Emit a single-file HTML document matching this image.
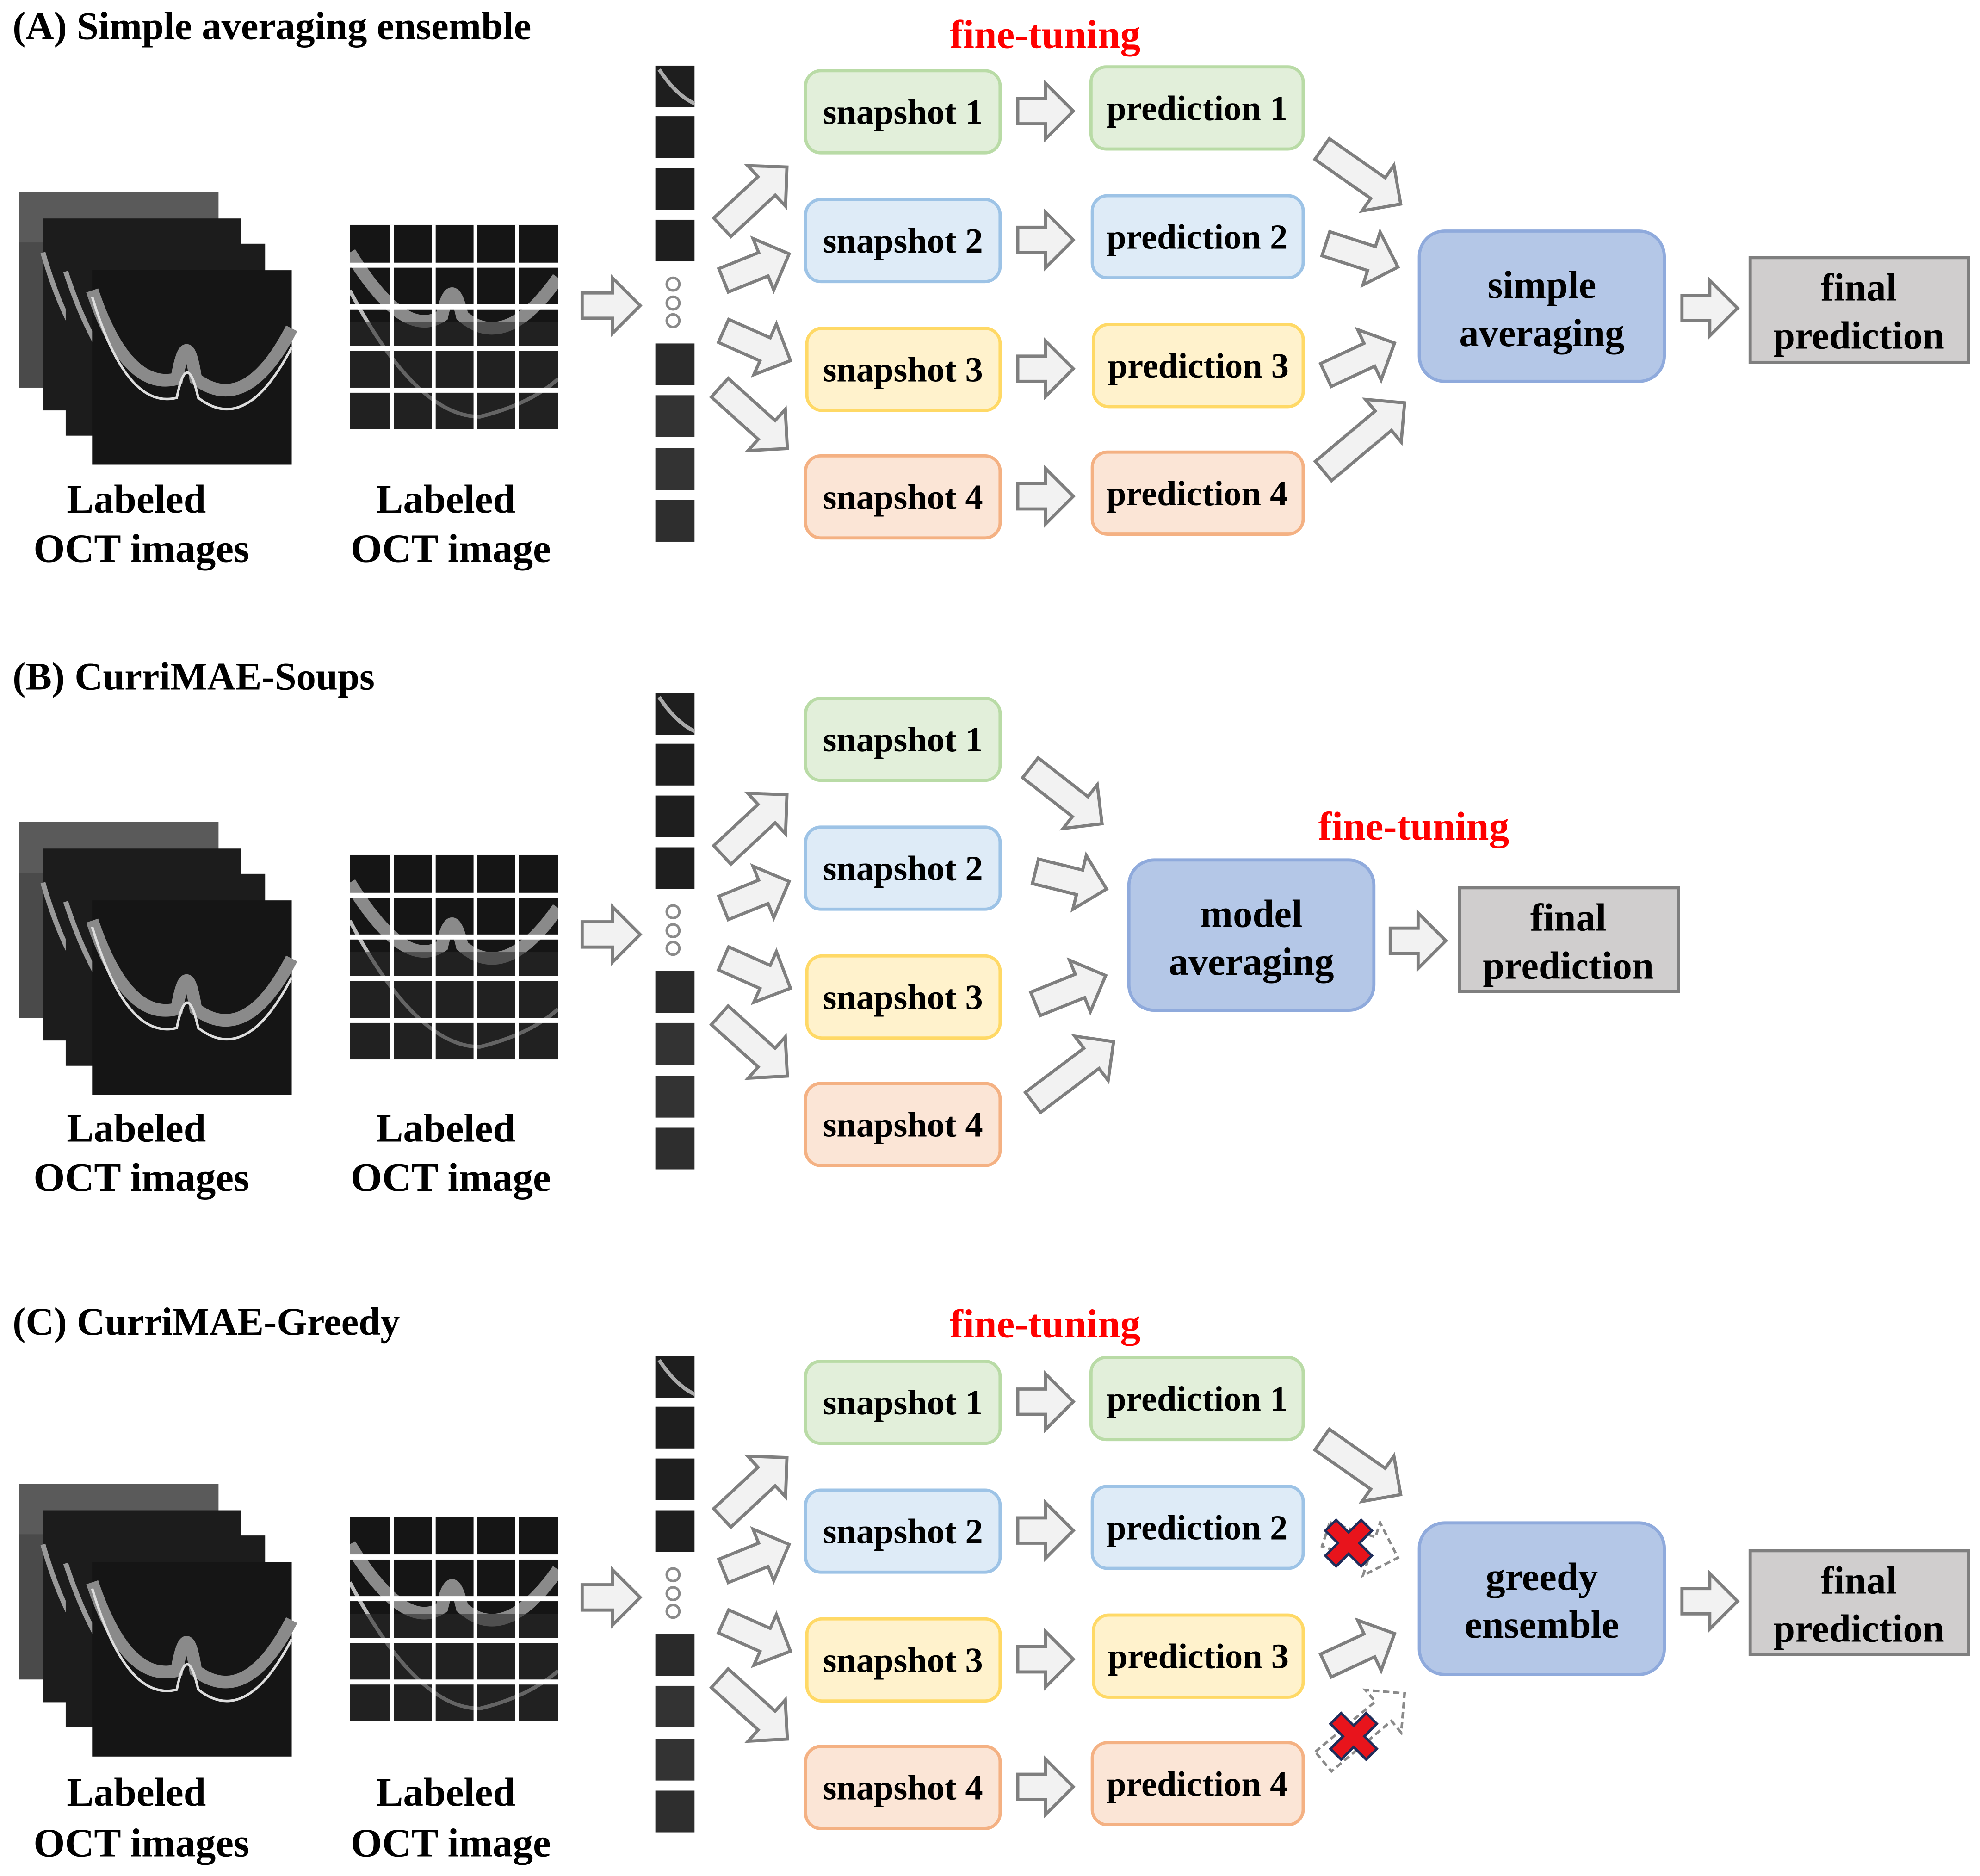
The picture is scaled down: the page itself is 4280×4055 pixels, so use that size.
<!DOCTYPE html>
<html><head><meta charset="utf-8"><style>
html,body{margin:0;padding:0;background:#fff;}
svg{display:block;}
text{font-family:"Liberation Serif",serif;font-weight:bold;fill:#000;}
.t{font-size:31px;}
.b{font-size:28px;}
.l{font-size:32px;}
.m{font-size:31px;}
.r{font-size:32px;fill:#f00;}
.ar{fill:#f2f2f2;stroke:#7f7f7f;stroke-width:2.5;}
.ad{fill:#fff;stroke:#8a8a8a;stroke-width:2;stroke-dasharray:5,3;}
.g{fill:#e2efda;stroke:#b9dba6;stroke-width:2.5;}
.bl{fill:#deebf7;stroke:#9dc3e6;stroke-width:2.5;}
.y{fill:#fff2cc;stroke:#ffd966;stroke-width:2.5;}
.o{fill:#fbe5d6;stroke:#f4b183;stroke-width:2.5;}
.big{fill:#b4c7e7;stroke:#8faadc;stroke-width:2.5;}
.fin{fill:#d0cece;stroke:#7f7f7f;stroke-width:2.5;}
.oct{fill:#1c1c1c;}
.p{fill:#1e1e1e;}
.dot{fill:#fff;stroke:#8a8a8a;stroke-width:2;}
</style></head><body>
<svg width="4280" height="4055" viewBox="0 0 1568 1485.6" preserveAspectRatio="none" xmlns="http://www.w3.org/2000/svg">
<defs>
<clipPath id="gc"><rect x="277" y="178" width="165" height="162"/></clipPath>
</defs>

<!-- PANEL A -->
<g>
<text class="t" x="10" y="31">(A) Simple averaging ensemble</text>
<text class="r" x="752" y="38">fine-tuning</text>
<rect x="15" y="152" width="158" height="155" fill="#4a4a4a"/>
<rect x="15" y="152" width="158" height="40" fill="#5a5a5a"/>
<rect x="34" y="173" width="157" height="152" class="oct"/>
<path d="M34,200 Q60,290 100,300" stroke="#999" stroke-width="4" fill="none"/>
<rect x="52" y="193" width="158" height="152" class="oct"/>
<path d="M52,215 Q80,300 120,320" stroke="#999" stroke-width="4" fill="none"/>
<rect x="73" y="214" width="158" height="154" fill="#151515"/>
<path d="M73,230 Q100,310 140,300 Q148,255 155,300 Q195,330 231,260" stroke="#8a8a8a" stroke-width="10" fill="none"/>
<path d="M73,235 Q100,325 140,315 Q148,275 157,315 Q195,345 231,275" stroke="#ddd" stroke-width="2" fill="none"/>
<g clip-path="url(#gc)">
<rect x="277" y="178" width="165" height="162" fill="#151515"/>
<path d="M277,200 Q320,270 350,250 Q358,215 366,250 Q400,280 442,220" stroke="#8a8a8a" stroke-width="10" fill="none"/>
<path d="M277,230 Q330,330 380,330 Q420,320 442,300" stroke="#bbb" stroke-width="3" fill="none"/>
<rect x="277" y="255" width="165" height="85" fill="#2a2a2a" opacity="0.6"/>
</g>
<g fill="#fff">
<rect x="309" y="178" width="3" height="162"/><rect x="342" y="178" width="3" height="162"/><rect x="375" y="178" width="3" height="162"/><rect x="408" y="178" width="3" height="162"/>
<rect x="277" y="208" width="165" height="4"/><rect x="277" y="241" width="165" height="4"/><rect x="277" y="274" width="165" height="4"/><rect x="277" y="307" width="165" height="4"/>
</g>
<text class="l" x="108" y="406" text-anchor="middle">Labeled</text>
<text class="l" x="112" y="445" text-anchor="middle">OCT images</text>
<text class="l" x="353" y="406" text-anchor="middle">Labeled</text>
<text class="l" x="357" y="445" text-anchor="middle">OCT image</text>
<g transform="translate(461,242)"><path class="ar" d="M0,-10H24V-22L46,0L24,22V10H0Z"/></g>
<rect class="p" x="519" y="52" width="31" height="33"/><path d="M522,55 Q535,75 550,82" stroke="#aaa" stroke-width="3" fill="none"/>
<rect class="p" x="519" y="92" width="31" height="33"/>
<rect class="p" x="519" y="133" width="31" height="33"/>
<rect class="p" x="519" y="174" width="31" height="33"/>
<circle class="dot" cx="533" cy="225" r="5"/><circle class="dot" cx="533" cy="240" r="5"/><circle class="dot" cx="533" cy="254" r="5"/>
<rect x="519" y="272" width="31" height="33" fill="#2a2a2a"/>
<rect x="519" y="313" width="31" height="33" fill="#333"/>
<rect x="519" y="355" width="31" height="33" fill="#333"/>
<rect x="519" y="396" width="31" height="33" fill="#2e2e2e"/>
<g transform="translate(572,180) rotate(-43)"><path class="ar" d="M0,-10H48V-22L70,0L48,22V10H0Z"/></g>
<g transform="translate(573,222) rotate(-22)"><path class="ar" d="M0,-10H34V-22L56,0L34,22V10H0Z"/></g>
<g transform="translate(573,262) rotate(24)"><path class="ar" d="M0,-10H36V-22L58,0L36,22V10H0Z"/></g>
<g transform="translate(570,307) rotate(42)"><path class="ar" d="M0,-10H50V-22L72,0L50,22V10H0Z"/></g>
<rect class="g" x="638" y="56" width="154" height="65" rx="12"/><text class="b" x="715" y="98" text-anchor="middle">snapshot 1</text>
<rect class="bl" x="638" y="158" width="154" height="65" rx="12"/><text class="b" x="715" y="200" text-anchor="middle">snapshot 2</text>
<rect class="y" x="639" y="260" width="153" height="65" rx="12"/><text class="b" x="715" y="302" text-anchor="middle">snapshot 3</text>
<rect class="o" x="638" y="361" width="154" height="65" rx="12"/><text class="b" x="715" y="403" text-anchor="middle">snapshot 4</text>
<g transform="translate(806,88)"><path class="ar" d="M0,-10H22V-22L44,0L22,22V10H0Z"/></g>
<g transform="translate(806,190)"><path class="ar" d="M0,-10H22V-22L44,0L22,22V10H0Z"/></g>
<g transform="translate(806,292)"><path class="ar" d="M0,-10H22V-22L44,0L22,22V10H0Z"/></g>
<g transform="translate(806,393)"><path class="ar" d="M0,-10H22V-22L44,0L22,22V10H0Z"/></g>
<rect class="g" x="864" y="53" width="168" height="65" rx="12"/><text class="b" x="948" y="95" text-anchor="middle">prediction 1</text>
<rect class="bl" x="865" y="155" width="167" height="65" rx="12"/><text class="b" x="948" y="197" text-anchor="middle">prediction 2</text>
<rect class="y" x="866" y="257" width="166" height="65" rx="12"/><text class="b" x="949" y="299" text-anchor="middle">prediction 3</text>
<rect class="o" x="865" y="358" width="167" height="65" rx="12"/><text class="b" x="948" y="400" text-anchor="middle">prediction 4</text>
<g transform="translate(1047,118) rotate(35)"><path class="ar" d="M0,-10H54V-22L76,0L54,22V10H0Z"/></g>
<g transform="translate(1050,193) rotate(18)"><path class="ar" d="M0,-10H38V-22L60,0L38,22V10H0Z"/></g>
<g transform="translate(1050,297) rotate(-25)"><path class="ar" d="M0,-10H38V-22L60,0L38,22V10H0Z"/></g>
<g transform="translate(1048,373) rotate(-40)"><path class="ar" d="M0,-10H62V-22L84,0L62,22V10H0Z"/></g>
<rect class="big" x="1124" y="183" width="194" height="119" rx="20"/>
<text class="m" x="1221" y="236" text-anchor="middle">simple</text>
<text class="m" x="1221" y="274" text-anchor="middle">averaging</text>
<g transform="translate(1332,244)"><path class="ar" d="M0,-10H22V-22L44,0L22,22V10H0Z"/></g>
<rect class="fin" x="1386" y="204" width="173" height="83"/>
<text class="m" x="1472" y="238" text-anchor="middle">final</text>
<text class="m" x="1472" y="276" text-anchor="middle">prediction</text>
</g>

<!-- PANEL B -->
<g transform="translate(0,497)">
<text class="t" x="10" y="49">(B) CurriMAE-Soups</text>
<rect x="15" y="154" width="158" height="155" fill="#4a4a4a"/>
<rect x="15" y="154" width="158" height="40" fill="#5a5a5a"/>
<rect x="34" y="175" width="157" height="152" class="oct"/>
<path d="M34,202 Q60,292 100,302" stroke="#999" stroke-width="4" fill="none"/>
<rect x="52" y="195" width="158" height="152" class="oct"/>
<path d="M52,217 Q80,302 120,322" stroke="#999" stroke-width="4" fill="none"/>
<rect x="73" y="216" width="158" height="154" fill="#151515"/>
<path d="M73,232 Q100,312 140,302 Q148,257 155,302 Q195,332 231,262" stroke="#8a8a8a" stroke-width="10" fill="none"/>
<path d="M73,237 Q100,327 140,317 Q148,277 157,317 Q195,347 231,277" stroke="#ddd" stroke-width="2" fill="none"/>
<g transform="translate(0,2)">
<g clip-path="url(#gc)">
<rect x="277" y="178" width="165" height="162" fill="#151515"/>
<path d="M277,200 Q320,270 350,250 Q358,215 366,250 Q400,280 442,220" stroke="#8a8a8a" stroke-width="10" fill="none"/>
<path d="M277,230 Q330,330 380,330 Q420,320 442,300" stroke="#bbb" stroke-width="3" fill="none"/>
<rect x="277" y="255" width="165" height="85" fill="#2a2a2a" opacity="0.6"/>
</g>
<g fill="#fff">
<rect x="309" y="178" width="3" height="162"/><rect x="342" y="178" width="3" height="162"/><rect x="375" y="178" width="3" height="162"/><rect x="408" y="178" width="3" height="162"/>
<rect x="277" y="208" width="165" height="4"/><rect x="277" y="241" width="165" height="4"/><rect x="277" y="274" width="165" height="4"/><rect x="277" y="307" width="165" height="4"/>
</g>
</g>
<text class="l" x="108" y="407" text-anchor="middle">Labeled</text>
<text class="l" x="112" y="446" text-anchor="middle">OCT images</text>
<text class="l" x="353" y="407" text-anchor="middle">Labeled</text>
<text class="l" x="357" y="446" text-anchor="middle">OCT image</text>
<g transform="translate(461,243)"><path class="ar" d="M0,-10H24V-22L46,0L24,22V10H0Z"/></g>
<rect class="p" x="519" y="52" width="31" height="33"/><path d="M522,55 Q535,75 550,82" stroke="#aaa" stroke-width="3" fill="none"/>
<rect class="p" x="519" y="92" width="31" height="33"/>
<rect class="p" x="519" y="133" width="31" height="33"/>
<rect class="p" x="519" y="174" width="31" height="33"/>
<circle class="dot" cx="533" cy="225" r="5"/><circle class="dot" cx="533" cy="240" r="5"/><circle class="dot" cx="533" cy="254" r="5"/>
<rect x="519" y="272" width="31" height="33" fill="#2a2a2a"/>
<rect x="519" y="313" width="31" height="33" fill="#333"/>
<rect x="519" y="355" width="31" height="33" fill="#333"/>
<rect x="519" y="396" width="31" height="33" fill="#2e2e2e"/>
<g transform="translate(572,180) rotate(-43)"><path class="ar" d="M0,-10H48V-22L70,0L48,22V10H0Z"/></g>
<g transform="translate(573,222) rotate(-22)"><path class="ar" d="M0,-10H34V-22L56,0L34,22V10H0Z"/></g>
<g transform="translate(573,262) rotate(24)"><path class="ar" d="M0,-10H36V-22L58,0L36,22V10H0Z"/></g>
<g transform="translate(570,307) rotate(42)"><path class="ar" d="M0,-10H50V-22L72,0L50,22V10H0Z"/></g>
<rect class="g" x="638" y="56" width="154" height="65" rx="12"/><text class="b" x="715" y="98" text-anchor="middle">snapshot 1</text>
<rect class="bl" x="638" y="158" width="154" height="65" rx="12"/><text class="b" x="715" y="200" text-anchor="middle">snapshot 2</text>
<rect class="y" x="639" y="260" width="153" height="65" rx="12"/><text class="b" x="715" y="302" text-anchor="middle">snapshot 3</text>
<rect class="o" x="638" y="361" width="154" height="65" rx="12"/><text class="b" x="715" y="403" text-anchor="middle">snapshot 4</text>
<g transform="translate(816,111) rotate(38)"><path class="ar" d="M0,-10H50V-22L72,0L50,22V10H0Z"/></g>
<g transform="translate(820,193) rotate(14)"><path class="ar" d="M0,-10H36V-22L58,0L36,22V10H0Z"/></g>
<g transform="translate(820,298) rotate(-22)"><path class="ar" d="M0,-10H38V-22L60,0L38,22V10H0Z"/></g>
<g transform="translate(818,376) rotate(-37)"><path class="ar" d="M0,-10H58V-22L80,0L58,22V10H0Z"/></g>
<text class="r" x="1044" y="168">fine-tuning</text>
<rect class="big" x="894" y="184" width="194" height="119" rx="20"/>
<text class="m" x="991" y="237" text-anchor="middle">model</text>
<text class="m" x="991" y="275" text-anchor="middle">averaging</text>
<g transform="translate(1101,248)"><path class="ar" d="M0,-10H22V-22L44,0L22,22V10H0Z"/></g>
<rect class="fin" x="1156" y="206" width="173" height="82"/>
<text class="m" x="1242" y="240" text-anchor="middle">final</text>
<text class="m" x="1242" y="278" text-anchor="middle">prediction</text>
</g>

<!-- PANEL C -->
<g transform="translate(0,1022)">
<text class="t" x="10" y="35">(C) CurriMAE-Greedy</text>
<text class="r" x="752" y="37">fine-tuning</text>
<rect x="15" y="153" width="158" height="155" fill="#4a4a4a"/>
<rect x="15" y="153" width="158" height="40" fill="#5a5a5a"/>
<rect x="34" y="174" width="157" height="152" class="oct"/>
<path d="M34,201 Q60,291 100,301" stroke="#999" stroke-width="4" fill="none"/>
<rect x="52" y="194" width="158" height="152" class="oct"/>
<path d="M52,216 Q80,301 120,321" stroke="#999" stroke-width="4" fill="none"/>
<rect x="73" y="215" width="158" height="154" fill="#151515"/>
<path d="M73,231 Q100,311 140,301 Q148,256 155,301 Q195,331 231,261" stroke="#8a8a8a" stroke-width="10" fill="none"/>
<path d="M73,236 Q100,326 140,316 Q148,276 157,316 Q195,346 231,276" stroke="#ddd" stroke-width="2" fill="none"/>
<g transform="translate(0,1)">
<g clip-path="url(#gc)">
<rect x="277" y="178" width="165" height="162" fill="#151515"/>
<path d="M277,200 Q320,270 350,250 Q358,215 366,250 Q400,280 442,220" stroke="#8a8a8a" stroke-width="10" fill="none"/>
<path d="M277,230 Q330,330 380,330 Q420,320 442,300" stroke="#bbb" stroke-width="3" fill="none"/>
<rect x="277" y="255" width="165" height="85" fill="#2a2a2a" opacity="0.6"/>
</g>
<g fill="#fff">
<rect x="309" y="178" width="3" height="162"/><rect x="342" y="178" width="3" height="162"/><rect x="375" y="178" width="3" height="162"/><rect x="408" y="178" width="3" height="162"/>
<rect x="277" y="208" width="165" height="4"/><rect x="277" y="241" width="165" height="4"/><rect x="277" y="274" width="165" height="4"/><rect x="277" y="307" width="165" height="4"/>
</g>
</g>
<text class="l" x="108" y="408" text-anchor="middle">Labeled</text>
<text class="l" x="112" y="448" text-anchor="middle">OCT images</text>
<text class="l" x="353" y="408" text-anchor="middle">Labeled</text>
<text class="l" x="357" y="448" text-anchor="middle">OCT image</text>
<g transform="translate(461,243)"><path class="ar" d="M0,-10H24V-22L46,0L24,22V10H0Z"/></g>
<rect class="p" x="519" y="52" width="31" height="33"/><path d="M522,55 Q535,75 550,82" stroke="#aaa" stroke-width="3" fill="none"/>
<rect class="p" x="519" y="92" width="31" height="33"/>
<rect class="p" x="519" y="133" width="31" height="33"/>
<rect class="p" x="519" y="174" width="31" height="33"/>
<circle class="dot" cx="533" cy="225" r="5"/><circle class="dot" cx="533" cy="240" r="5"/><circle class="dot" cx="533" cy="254" r="5"/>
<rect x="519" y="272" width="31" height="33" fill="#2a2a2a"/>
<rect x="519" y="313" width="31" height="33" fill="#333"/>
<rect x="519" y="355" width="31" height="33" fill="#333"/>
<rect x="519" y="396" width="31" height="33" fill="#2e2e2e"/>
<g transform="translate(572,180) rotate(-43)"><path class="ar" d="M0,-10H48V-22L70,0L48,22V10H0Z"/></g>
<g transform="translate(573,222) rotate(-22)"><path class="ar" d="M0,-10H34V-22L56,0L34,22V10H0Z"/></g>
<g transform="translate(573,262) rotate(24)"><path class="ar" d="M0,-10H36V-22L58,0L36,22V10H0Z"/></g>
<g transform="translate(570,307) rotate(42)"><path class="ar" d="M0,-10H50V-22L72,0L50,22V10H0Z"/></g>
<rect class="g" x="638" y="56" width="154" height="65" rx="12"/><text class="b" x="715" y="98" text-anchor="middle">snapshot 1</text>
<rect class="bl" x="638" y="158" width="154" height="65" rx="12"/><text class="b" x="715" y="200" text-anchor="middle">snapshot 2</text>
<rect class="y" x="639" y="260" width="153" height="65" rx="12"/><text class="b" x="715" y="302" text-anchor="middle">snapshot 3</text>
<rect class="o" x="638" y="361" width="154" height="65" rx="12"/><text class="b" x="715" y="403" text-anchor="middle">snapshot 4</text>
<g transform="translate(806,88)"><path class="ar" d="M0,-10H22V-22L44,0L22,22V10H0Z"/></g>
<g transform="translate(806,190)"><path class="ar" d="M0,-10H22V-22L44,0L22,22V10H0Z"/></g>
<g transform="translate(806,292)"><path class="ar" d="M0,-10H22V-22L44,0L22,22V10H0Z"/></g>
<g transform="translate(806,393)"><path class="ar" d="M0,-10H22V-22L44,0L22,22V10H0Z"/></g>
<rect class="g" x="864" y="53" width="168" height="65" rx="12"/><text class="b" x="948" y="95" text-anchor="middle">prediction 1</text>
<rect class="bl" x="865" y="155" width="167" height="65" rx="12"/><text class="b" x="948" y="197" text-anchor="middle">prediction 2</text>
<rect class="y" x="866" y="257" width="166" height="65" rx="12"/><text class="b" x="949" y="299" text-anchor="middle">prediction 3</text>
<rect class="o" x="865" y="358" width="167" height="65" rx="12"/><text class="b" x="948" y="400" text-anchor="middle">prediction 4</text>
<g transform="translate(1047,118) rotate(35)"><path class="ar" d="M0,-10H54V-22L76,0L54,22V10H0Z"/></g>
<g transform="translate(1050,193) rotate(18)"><path class="ad" d="M0,-10H38V-22L60,0L38,22V10H0Z"/></g>
<g transform="translate(1050,297) rotate(-25)"><path class="ar" d="M0,-10H38V-22L60,0L38,22V10H0Z"/></g>
<g transform="translate(1048,373) rotate(-40)"><path class="ad" d="M0,-10H62V-22L84,0L62,22V10H0Z"/></g>
<g transform="translate(1068,200) rotate(45)"><path d="M-6,-20H6V-6H20V6H6V20H-6V6H-20V-6H-6Z" fill="#e8141c" stroke="#1f2d5a" stroke-width="2"/></g>
<g transform="translate(1072,353) rotate(45)"><path d="M-6,-20H6V-6H20V6H6V20H-6V6H-20V-6H-6Z" fill="#e8141c" stroke="#1f2d5a" stroke-width="2"/></g>
<rect class="big" x="1124" y="184" width="194" height="120" rx="20"/>
<text class="m" x="1221" y="237" text-anchor="middle">greedy</text>
<text class="m" x="1221" y="275" text-anchor="middle">ensemble</text>
<g transform="translate(1332,246)"><path class="ar" d="M0,-10H22V-22L44,0L22,22V10H0Z"/></g>
<rect class="fin" x="1386" y="206" width="173" height="82"/>
<text class="m" x="1472" y="240" text-anchor="middle">final</text>
<text class="m" x="1472" y="278" text-anchor="middle">prediction</text>
</g>
</svg>
</body></html>
